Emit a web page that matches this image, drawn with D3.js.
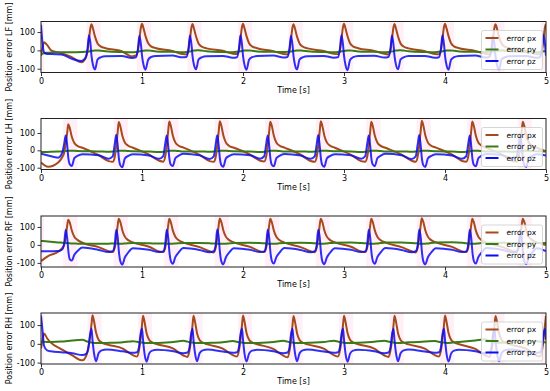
<!DOCTYPE html>
<html>
<head>
<meta charset="utf-8">
<script src="https://cdn.jsdelivr.net/npm/d3@7"></script>
<style>
  body { margin: 0; background: #fff; }
  svg { font-family: "DejaVu Sans", sans-serif; }
</style>
</head>
<body>
<div id="chart"></div>
<script>
// ---- LF leg ----
var lfTime = [0, 0.015, 0.03, 0.06, 0.1, 0.2,
  0.3, 0.4, 0.44, 0.46, 0.475, 0.49, 0.5, 0.515, 0.535, 0.56, 0.59, 0.64,
  0.8, 0.9, 0.94, 0.96, 0.975, 0.99, 1.0, 1.015, 1.035, 1.06, 1.09, 1.14,
  1.3, 1.4, 1.44, 1.46, 1.475, 1.49, 1.5, 1.515, 1.535, 1.56, 1.59, 1.64,
  1.8, 1.9, 1.94, 1.96, 1.975, 1.99, 2.0, 2.015, 2.035, 2.06, 2.09, 2.14,
  2.3, 2.4, 2.44, 2.46, 2.475, 2.49, 2.5, 2.515, 2.535, 2.56, 2.59, 2.64,
  2.8, 2.9, 2.94, 2.96, 2.975, 2.99, 3.0, 3.015, 3.035, 3.06, 3.09, 3.14,
  3.3, 3.4, 3.44, 3.46, 3.475, 3.49, 3.5, 3.515, 3.535, 3.56, 3.59, 3.64,
  3.8, 3.9, 3.94, 3.96, 3.975, 3.99, 4.0, 4.015, 4.035, 4.06, 4.09, 4.14,
  4.3, 4.4, 4.44, 4.46, 4.475, 4.49, 4.5, 4.515, 4.535, 4.56, 4.59, 4.64,
  4.8, 4.9, 4.94, 4.96, 4.975, 4.99, 5.0];
var lfPx = [-30, 15, 45, 30, 0, -15,
  -35, -65, -45, -5, 60, 125, 143, 118, 75, 38, 22, 12,
  -5, -33, -28, 0, 65, 128, 145, 120, 78, 40, 22, 12,
  -3, -20, -22, 2, 62, 126, 144, 118, 76, 38, 21, 11,
  -2, -18, -20, 3, 64, 128, 145, 120, 78, 39, 22, 12,
  -4, -20, -22, 0, 60, 125, 143, 118, 75, 38, 21, 11,
  -3, -19, -21, 2, 63, 127, 145, 119, 77, 39, 22, 12,
  -3, -18, -22, 1, 62, 126, 144, 118, 76, 38, 21, 11,
  -4, -20, -21, 2, 64, 128, 145, 120, 78, 39, 22, 12,
  -3, -19, -22, 0, 60, 125, 143, 118, 75, 38, 21, 11,
  -3, -19, -22, 0, 62, 126, 144];
var lfPy = [-20, -18, -16, -13, -11, -10,
  -10, -9, -8, -7, -6, -4, -3, -2, -1, 0, -2, -5,
  -9, -10, -9, -7, -5, -4, -3, -2, -1, 0, -2, -6,
  -8, -10, -9, -7, -6, -4, -2, -1, 0, 1, -1, -5,
  -9, -10, -8, -6, -5, -3, -2, -1, 0, 0, -2, -6,
  -8, -9, -8, -7, -6, -4, -3, -2, -1, 0, -2, -5,
  -9, -10, -9, -7, -5, -4, -3, -2, -1, 0, -2, -6,
  -8, -10, -9, -7, -6, -4, -2, -1, 0, 1, -1, -5,
  -9, -10, -8, -6, -5, -3, -2, -1, 0, 0, -2, -6,
  -8, -9, -8, -7, -6, -4, -3, -2, -1, 0, -2, -5,
  -9, -10, -9, -7, -5, -4, -3];
var lfPz = [140, 40, -10, -20, -20, -22,
  -45, -58, -40, 5, 82, 35, -30, -80, -104, -50, -38, -32,
  -30, -42, -38, 10, 80, 30, -28, -78, -105, -52, -36, -30,
  -28, -38, -36, 8, 81, 32, -30, -80, -103, -50, -38, -32,
  -30, -40, -37, 10, 83, 34, -28, -79, -106, -51, -37, -31,
  -28, -39, -36, 9, 80, 31, -30, -80, -104, -50, -38, -32,
  -30, -40, -38, 10, 82, 33, -29, -80, -108, -52, -37, -30,
  -29, -39, -36, 8, 81, 32, -30, -79, -103, -50, -38, -31,
  -30, -40, -37, 10, 83, 34, -28, -80, -105, -51, -37, -30,
  -28, -39, -36, 9, 80, 31, -30, -80, -104, -50, -38, -32,
  -30, -40, -37, 10, 82, 33, -29];
var lfSwing = [[0, 0.03], [0.45, 0.59], [0.95, 1.09], [1.45, 1.59], [1.95, 2.09], [2.45, 2.59],
  [2.95, 3.09], [3.45, 3.59], [3.95, 4.09], [4.45, 4.59], [4.95, 5.0]];

// ---- LH leg ----
var lhTime = [0,
  0.07, 0.17, 0.21, 0.23, 0.245, 0.26, 0.27, 0.285, 0.305, 0.33, 0.36, 0.41,
  0.57, 0.67, 0.71, 0.73, 0.745, 0.76, 0.77, 0.785, 0.805, 0.83, 0.86, 0.91,
  1.07, 1.17, 1.21, 1.23, 1.245, 1.26, 1.27, 1.285, 1.305, 1.33, 1.36, 1.41,
  1.57, 1.67, 1.71, 1.73, 1.745, 1.76, 1.77, 1.785, 1.805, 1.83, 1.86, 1.91,
  2.07, 2.17, 2.21, 2.23, 2.245, 2.26, 2.27, 2.285, 2.305, 2.33, 2.36, 2.41,
  2.57, 2.67, 2.71, 2.73, 2.745, 2.76, 2.77, 2.785, 2.805, 2.83, 2.86, 2.91,
  3.07, 3.17, 3.21, 3.23, 3.245, 3.26, 3.27, 3.285, 3.305, 3.33, 3.36, 3.41,
  3.57, 3.67, 3.71, 3.73, 3.745, 3.76, 3.77, 3.785, 3.805, 3.83, 3.86, 3.91,
  4.07, 4.17, 4.21, 4.23, 4.245, 4.26, 4.27, 4.285, 4.305, 4.33, 4.36, 4.41,
  4.57, 4.67, 4.71, 4.73, 4.745, 4.76, 4.77, 4.785, 4.805, 4.83, 4.86, 4.91,
  5.0];
var lhPx = [-70,
  -95, -70, -40, -12, 40, 105, 150, 128, 78, 42, 26, 15,
  -28, -62, -66, -38, 25, 110, 163, 140, 85, 45, 28, 15,
  -25, -60, -65, -35, 28, 115, 166, 142, 86, 46, 28, 16,
  -26, -62, -66, -37, 26, 112, 168, 143, 87, 46, 27, 15,
  -24, -60, -64, -35, 28, 114, 165, 141, 85, 45, 28, 16,
  -25, -61, -66, -36, 27, 113, 167, 142, 86, 46, 28, 15,
  -26, -62, -65, -37, 26, 112, 164, 140, 85, 45, 27, 15,
  -25, -60, -66, -35, 28, 115, 170, 144, 87, 46, 28, 16,
  -24, -61, -65, -36, 27, 113, 166, 141, 86, 45, 28, 15,
  -26, -62, -66, -37, 26, 112, 164, 140, 85, 45, 27, 15,
  -5];
var lhPy = [-10,
  -9, -7, -6, -5, -4, -3, -3, -2, -2, -3, -4, -5,
  -6, -8, -7, -6, -5, -4, -3, -3, -2, -3, -4, -5,
  -7, -9, -8, -6, -5, -4, -3, -2, -2, -3, -4, -6,
  -6, -8, -7, -6, -5, -4, -3, -3, -2, -3, -4, -5,
  -7, -9, -8, -6, -5, -4, -3, -2, -2, -3, -4, -6,
  -6, -8, -7, -6, -5, -4, -3, -3, -2, -3, -4, -5,
  -7, -10, -8, -6, -5, -4, -3, -2, -2, -3, -4, -6,
  -6, -8, -7, -6, -5, -4, -3, -3, -2, -3, -4, -5,
  -7, -9, -8, -6, -5, -4, -3, -2, -2, -3, -4, -6,
  -6, -8, -7, -6, -5, -4, -3, -3, -2, -3, -4, -5,
  -6];
var lhPz = [-20,
  -30, -42, -15, 40, 86, 25, -40, -80, -90, -45, -32, -22,
  -28, -48, -35, 35, 90, 25, -40, -85, -97, -47, -33, -22,
  -30, -48, -33, 38, 85, 22, -42, -82, -90, -46, -32, -20,
  -29, -50, -35, 36, 87, 24, -40, -84, -95, -47, -33, -22,
  -28, -48, -34, 37, 86, 23, -41, -83, -92, -46, -32, -21,
  -30, -49, -35, 36, 88, 24, -40, -84, -94, -47, -33, -22,
  -29, -48, -33, 38, 85, 22, -42, -82, -91, -46, -32, -20,
  -28, -50, -35, 35, 88, 25, -40, -85, -96, -47, -33, -22,
  -30, -48, -34, 37, 86, 23, -41, -83, -92, -46, -32, -21,
  -29, -49, -35, 36, 87, 24, -40, -84, -94, -47, -33, -22,
  -30];
var lhSwing = [[0.22, 0.36], [0.72, 0.86], [1.22, 1.36], [1.72, 1.86], [2.22, 2.36],
  [2.72, 2.86], [3.22, 3.36], [3.72, 3.86], [4.22, 4.36], [4.72, 4.86]];

// ---- RF leg ----
var rfTime = [0,
  0.07, 0.17, 0.21, 0.23, 0.245, 0.26, 0.27, 0.285, 0.305, 0.33, 0.36, 0.41,
  0.57, 0.67, 0.71, 0.73, 0.745, 0.76, 0.77, 0.785, 0.805, 0.83, 0.86, 0.91,
  1.07, 1.17, 1.21, 1.23, 1.245, 1.26, 1.27, 1.285, 1.305, 1.33, 1.36, 1.41,
  1.57, 1.67, 1.71, 1.73, 1.745, 1.76, 1.77, 1.785, 1.805, 1.83, 1.86, 1.91,
  2.07, 2.17, 2.21, 2.23, 2.245, 2.26, 2.27, 2.285, 2.305, 2.33, 2.36, 2.41,
  2.57, 2.67, 2.71, 2.73, 2.745, 2.76, 2.77, 2.785, 2.805, 2.83, 2.86, 2.91,
  3.07, 3.17, 3.21, 3.23, 3.245, 3.26, 3.27, 3.285, 3.305, 3.33, 3.36, 3.41,
  3.57, 3.67, 3.71, 3.73, 3.745, 3.76, 3.77, 3.785, 3.805, 3.83, 3.86, 3.91,
  4.07, 4.17, 4.21, 4.23, 4.245, 4.26, 4.27, 4.285, 4.305, 4.33, 4.36, 4.41,
  4.57, 4.67, 4.71, 4.73, 4.745, 4.76, 4.77, 4.785, 4.805, 4.83, 4.86, 4.91,
  5.0];
var rfPx = [-90,
  -62, -38, -18, 2, 45, 110, 140, 124, 80, 45, 28, 12,
  -12, -35, -40, -15, 40, 112, 146, 128, 82, 46, 28, 14,
  -10, -36, -40, -14, 42, 110, 145, 127, 81, 45, 27, 13,
  -12, -35, -42, -15, 40, 112, 147, 128, 82, 46, 28, 14,
  -11, -36, -40, -14, 42, 111, 145, 127, 81, 45, 27, 13,
  -12, -35, -41, -15, 40, 112, 146, 128, 82, 46, 28, 14,
  -10, -36, -40, -14, 42, 110, 145, 127, 81, 45, 27, 13,
  -12, -35, -42, -15, 40, 112, 148, 128, 82, 46, 28, 14,
  -11, -36, -40, -14, 42, 111, 145, 127, 81, 45, 27, 13,
  -12, -35, -41, -15, 40, 112, 146, 128, 82, 46, 28, 14,
  0];
var rfPy = [22,
  19, 14, 12, 11, 10, 10, 9, 9, 8, 8, 7, 6,
  6, 7, 8, 8, 8, 8, 7, 7, 7, 8, 9, 10,
  9, 8, 8, 8, 7, 7, 7, 7, 7, 8, 9, 10,
  10, 9, 8, 8, 7, 7, 6, 6, 6, 7, 8, 10,
  12, 10, 9, 8, 7, 7, 6, 6, 6, 7, 9, 11,
  12, 11, 9, 8, 7, 6, 6, 6, 7, 8, 10, 12,
  14, 11, 9, 8, 7, 6, 6, 6, 7, 8, 10, 13,
  14, 11, 9, 8, 7, 6, 6, 6, 7, 8, 11, 14,
  15, 12, 9, 8, 7, 6, 6, 6, 7, 8, 10, 12,
  12, 10, 9, 8, 7, 6, 6, 6, 7, 8, 9, 10,
  10];
var rfPz = [-35,
  -35, -34, -25, 10, 85, 35, -30, -80, -87, -55, -35, -15,
  -28, -40, -35, 0, 85, 40, -30, -90, -110, -70, -45, -18,
  -27, -40, -36, 2, 84, 38, -32, -88, -105, -68, -44, -17,
  -28, -41, -35, 0, 86, 40, -30, -90, -108, -70, -45, -18,
  -27, -40, -36, 2, 84, 38, -31, -88, -104, -68, -44, -17,
  -28, -41, -35, 0, 85, 40, -30, -90, -107, -70, -45, -18,
  -27, -40, -36, 2, 84, 38, -32, -88, -105, -68, -44, -17,
  -28, -41, -35, 0, 86, 40, -30, -90, -108, -70, -45, -18,
  -27, -40, -36, 2, 84, 38, -31, -88, -104, -68, -44, -17,
  -28, -41, -35, 0, 85, 40, -30, -90, -106, -70, -45, -18,
  -35];
var rfSwing = [[0, 0.03], [0.22, 0.36], [0.72, 0.86], [1.22, 1.36], [1.72, 1.86], [2.22, 2.36],
  [2.72, 2.86], [3.22, 3.36], [3.72, 3.86], [4.22, 4.36], [4.72, 4.86]];

// ---- RH leg ----
var rhTime = [0, 0.015, 0.03, 0.06, 0.1, 0.2,
  0.31, 0.41, 0.45, 0.47, 0.485, 0.5, 0.51, 0.525, 0.545, 0.57, 0.6, 0.65,
  0.81, 0.91, 0.95, 0.97, 0.985, 1.0, 1.01, 1.025, 1.045, 1.07, 1.1, 1.15,
  1.31, 1.41, 1.45, 1.47, 1.485, 1.5, 1.51, 1.525, 1.545, 1.57, 1.6, 1.65,
  1.8, 1.9, 1.94, 1.96, 1.975, 1.99, 2.0, 2.015, 2.035, 2.06, 2.09, 2.14,
  2.3, 2.4, 2.44, 2.46, 2.475, 2.49, 2.5, 2.515, 2.535, 2.56, 2.59, 2.64,
  2.8, 2.9, 2.94, 2.96, 2.975, 2.99, 3.0, 3.015, 3.035, 3.06, 3.09, 3.14,
  3.3, 3.4, 3.44, 3.46, 3.475, 3.49, 3.5, 3.515, 3.535, 3.56, 3.59, 3.64,
  3.8, 3.9, 3.94, 3.96, 3.975, 3.99, 4.0, 4.015, 4.035, 4.06, 4.09, 4.14,
  4.3, 4.4, 4.44, 4.46, 4.475, 4.49, 4.5, 4.515, 4.535, 4.56, 4.59, 4.64,
  4.8, 4.9, 4.94, 4.96, 4.975, 4.99, 5.0];
var rhPx = [-25, 20, 55, 30, 5, -28,
  -62, -88, -60, -15, 35, 105, 152, 120, 60, 22, 8, -3,
  -25, -60, -68, -35, 22, 100, 150, 118, 58, 22, 8, -2,
  -26, -62, -70, -36, 20, 98, 150, 117, 57, 21, 7, -3,
  -25, -60, -68, -35, 22, 100, 151, 118, 58, 22, 8, -2,
  -27, -63, -72, -38, 20, 98, 149, 117, 57, 21, 7, -3,
  -25, -60, -68, -35, 22, 100, 150, 118, 58, 22, 8, -2,
  -26, -62, -70, -36, 20, 98, 150, 117, 57, 21, 7, -3,
  -25, -60, -68, -35, 22, 100, 151, 118, 58, 22, 8, -2,
  -27, -62, -70, -36, 20, 98, 149, 117, 57, 21, 7, -3,
  -25, -60, -68, -35, 22, 100, 150];
var rhPy = [12, 11, 11, 10, 10, 12,
  18, 22, 14, 10, 8, 7, 6, 5, 5, 4, 4, 5,
  9, 14, 11, 9, 8, 7, 6, 5, 5, 4, 4, 5,
  10, 16, 12, 9, 8, 7, 6, 5, 5, 4, 4, 5,
  9, 15, 11, 9, 8, 7, 6, 5, 5, 4, 4, 5,
  10, 16, 12, 9, 8, 7, 6, 5, 5, 4, 4, 6,
  10, 17, 12, 9, 8, 7, 6, 5, 5, 4, 5, 6,
  11, 17, 12, 9, 8, 7, 6, 5, 5, 5, 6, 8,
  12, 15, 11, 9, 8, 7, 6, 5, 5, 6, 8, 10,
  18, 24, 16, 12, 10, 8, 7, 6, 6, 6, 8, 10,
  12, 15, 12, 10, 9, 8, 7];
var rhPz = [150, 70, -10, -35, -40, -45,
  -50, -60, -52, -20, 45, 80, 20, -50, -93, -50, -35, -30,
  -40, -48, -45, -18, 50, 82, 22, -52, -95, -52, -36, -32,
  -40, -50, -46, -20, 48, 80, 20, -50, -93, -50, -35, -30,
  -41, -48, -45, -18, 50, 82, 22, -52, -94, -52, -36, -32,
  -40, -50, -46, -20, 48, 80, 20, -50, -93, -50, -35, -30,
  -41, -48, -45, -18, 50, 82, 22, -52, -95, -52, -36, -32,
  -40, -50, -46, -20, 48, 80, 20, -50, -93, -50, -35, -30,
  -41, -48, -45, -18, 50, 82, 22, -52, -94, -52, -36, -32,
  -40, -50, -46, -20, 48, 80, 20, -50, -93, -50, -35, -30,
  -41, -48, -45, -18, 50, 82, 22];
var rhSwing = [[0, 0.03], [0.46, 0.6], [0.96, 1.1], [1.46, 1.6], [1.95, 2.09], [2.45, 2.59],
  [2.95, 3.09], [3.45, 3.59], [3.95, 4.09], [4.45, 4.59], [4.95, 5.0]];

var legNames = ['LF', 'LH', 'RF', 'RH'];
var seriesNames = ['error px', 'error py', 'error pz'];
var xTicks = [0, 1, 2, 3, 4, 5];
var yTicks = [-100, 0, 100];

var legs = [
  { time: lfTime, series: [lfPx, lfPy, lfPz], swing: lfSwing },
  { time: lhTime, series: [lhPx, lhPy, lhPz], swing: lhSwing },
  { time: rfTime, series: [rfPx, rfPy, rfPz], swing: rfSwing },
  { time: rhTime, series: [rhPx, rhPy, rhPz], swing: rhSwing }
];

var svg = d3.select('#chart').append('svg')
  .attr('width', 550)
  .attr('height', 391);

var left = 41, right = 546;
var panelTops = [21.5, 118.5, 216, 313];
var panelH = 51;
var colors = ['#a64a1d', '#3a7a17', '#0a0af5'];

var x = d3.scaleLinear().domain([0, 5]).range([left, right]);

legs.forEach(function (leg, i) {
  var top = panelTops[i];
  var bottom = top + panelH;

  var all = leg.series[0].concat(leg.series[1], leg.series[2]);
  var ext = d3.extent(all);
  var pad = (ext[1] - ext[0]) * 0.05;
  var y = d3.scaleLinear().domain([ext[0] - pad, ext[1] + pad]).range([bottom, top]);

  var g = svg.append('g').attr('class', 'panel');

  g.append('clipPath').attr('id', 'clip' + i)
    .append('rect')
    .attr('x', left).attr('y', top)
    .attr('width', right - left).attr('height', panelH);

  var plot = g.append('g').attr('clip-path', 'url(#clip' + i + ')');

  plot.selectAll('.swing')
    .data(leg.swing)
  .enter().append('rect')
    .attr('class', 'swing')
    .attr('x', function (d) { return x(d[0]); })
    .attr('width', function (d) { return x(d[1]) - x(d[0]); })
    .attr('y', top)
    .attr('height', panelH)
    .attr('fill', '#ff80c0')
    .attr('opacity', 0.12);

  leg.series.forEach(function (vals, j) {
    var line = d3.line()
      .x(function (d, k) { return x(leg.time[k]); })
      .y(function (d) { return y(d); })
      .curve(d3.curveMonotoneX);
    plot.append('path')
      .datum(vals)
      .attr('d', line)
      .attr('fill', 'none')
      .attr('stroke', colors[j])
      .attr('stroke-width', 2)
      .attr('stroke-linejoin', 'round')
      .attr('opacity', j === 2 ? 0.85 : 1);
  });

  // axes
  var xAxis = g.append('g')
    .attr('transform', 'translate(0,' + bottom + ')')
    .call(d3.axisBottom(x).tickValues(xTicks).tickSize(3.5).tickPadding(2)
      .tickFormat(function (d) { return String(d); }));
  var yAxis = g.append('g')
    .attr('transform', 'translate(' + left + ',0)')
    .call(d3.axisLeft(y).tickValues(yTicks).tickSize(3.5).tickPadding(2.5)
      .tickFormat(function (d) { return String(d); }));

  [xAxis, yAxis].forEach(function (ax) {
    ax.select('.domain').remove();
    ax.attr('font-size', 8).attr('font-family', 'DejaVu Sans');
    ax.selectAll('text').attr('fill', '#000');
    ax.selectAll('line').attr('stroke', '#000').attr('stroke-width', 0.8);
  });

  g.append('rect')
    .attr('x', left).attr('y', top)
    .attr('width', right - left).attr('height', panelH)
    .attr('fill', 'none')
    .attr('stroke', '#222')
    .attr('stroke-width', 1);

  g.append('text')
    .attr('x', (left + right) / 2)
    .attr('y', bottom + 20)
    .attr('text-anchor', 'middle')
    .attr('font-size', 8)
    .text('Time [s]');

  g.append('text')
    .attr('transform', 'translate(11.5,' + (top + panelH / 2) + ') rotate(-90)')
    .attr('text-anchor', 'middle')
    .attr('font-size', 8)
    .text('Position error ' + legNames[i] + ' [mm]');

  // legend
  var lgW = 61, lgH = 39;
  var lg = g.append('g')
    .attr('transform', 'translate(' + (right - 3.5 - lgW) + ',' + (bottom - 3 - lgH) + ')');
  lg.append('rect')
    .attr('width', lgW).attr('height', lgH)
    .attr('rx', 2)
    .attr('fill', '#fff').attr('fill-opacity', 0.8)
    .attr('stroke', '#cccccc').attr('stroke-width', 0.8);
  var rows = lg.selectAll('.entry')
    .data(seriesNames)
  .enter().append('g')
    .attr('class', 'entry')
    .attr('transform', function (d, k) { return 'translate(0,' + (7.5 + k * 11.5) + ')'; });
  rows.append('line')
    .attr('x1', 4).attr('x2', 17)
    .attr('stroke', function (d, k) { return colors[k]; })
    .attr('stroke-width', 2);
  rows.append('text')
    .attr('x', 25)
    .attr('dy', '0.35em')
    .attr('font-size', 7.5)
    .text(function (d) { return d; });
});
</script>
</body>
</html>
